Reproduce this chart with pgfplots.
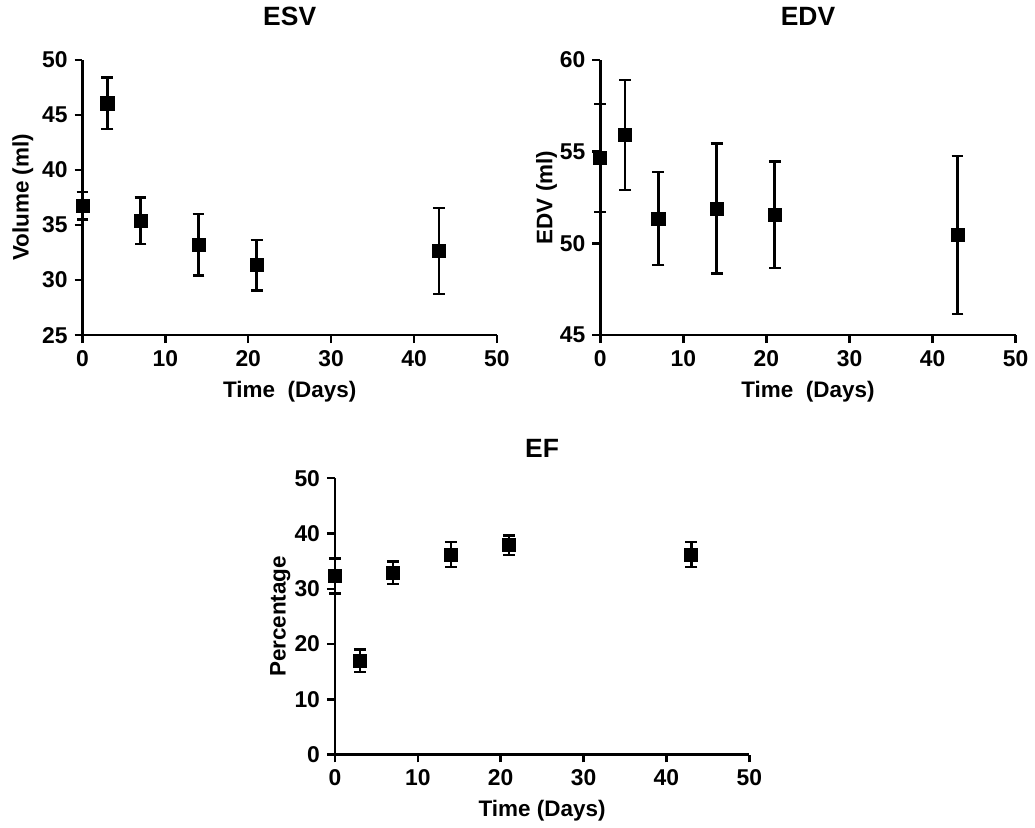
\documentclass[border=0pt]{standalone}
\usepackage{fontspec}
\setmainfont{Liberation Sans}
\usepackage{pgfplots}
\usepackage{pgfplotstable}
\pgfplotsset{compat=1.18}

% mean and error, time in days
\pgfplotstableread{
t  y     e
0  36.75 1.25
3  46.05 2.35
7  35.40 2.10
14 33.20 2.80
21 31.35 2.30
43 32.65 3.90
}\esvdata
\pgfplotstableread{
t  y     e
0  54.65 2.95
3  55.90 3.00
7  51.35 2.53
14 51.90 3.55
21 51.55 2.90
43 50.45 4.30
}\edvdata
\pgfplotstableread{
t  y     e
0  32.30 3.15
3  16.95 2.05
7  32.90 2.00
14 36.20 2.25
21 37.90 1.75
43 36.20 2.25
}\efdata

\pgfplotsset{
  panel/.style={
    scale only axis,
    width=208.5pt, height=138.5pt,
    axis lines=left,
    axis line style={-, line width=1.25pt, black},
    xmin=0, xmax=50, xtick={0,10,...,50},
    tick align=outside,
    major tick length=4pt,
    tick style={line width=1.25pt, black},
    tick label style={font=\fontsize{11.5}{13}\selectfont\bfseries},
    /pgf/number format/assume math mode=true,
    label style={font=\fontsize{11.3}{13}\selectfont\bfseries},
    title style={font=\fontsize{13.3}{15}\selectfont\bfseries,
                 at={(axis description cs:0.5,1)}, anchor=base, yshift=11.5pt},
    xlabel style={at={(axis description cs:0.5,-0.2274)}, anchor=base},
    clip=false,
  },
  pts/.style={
    black, only marks, mark=square*, mark size=3.3pt,
    error bars/.cd, y dir=both, y explicit,
    error bar style={line width=1.25pt, black},
    error mark options={rotate=90, mark size=3pt, line width=1.25pt, black},
  },
}

\begin{document}
\begin{tikzpicture}
\path (0,0) rectangle (517.5pt,412pt);

% ESV
\begin{axis}[panel, at={(41.5pt,247pt)},
  ymin=25, ymax=50, ytick={25,30,...,50},
  title={ESV}, xlabel={Time\ \ (Days)}, ylabel={Volume (ml)},
  ylabel style={at={(axis description cs:-0.144,0.5)}, anchor=center}]
\addplot[pts] table[x=t, y=y, y error=e] {\esvdata};
\end{axis}

% EDV
\begin{axis}[panel, at={(302pt,247pt)}, width=209pt,
  ymin=45, ymax=60, ytick={45,50,...,60},
  title={EDV}, xlabel={Time\ \ (Days)}, ylabel={EDV (ml)},
  ylabel style={at={(axis description cs:-0.129,0.5)}, anchor=center}]
\addplot[pts] table[x=t, y=y, y error=e] {\edvdata};
\end{axis}

% EF
\begin{axis}[panel, at={(168.5pt,36pt)}, height=139pt,
  ymin=0, ymax=50, ytick={0,10,...,50},
  title={EF}, xlabel={Time (Days)}, ylabel={Percentage},
  title style={yshift=-7pt},
  xlabel style={at={(axis description cs:0.5,-0.223)}},
  ylabel style={at={(axis description cs:-0.132,0.5)}, anchor=center}]
\addplot[pts] table[x=t, y=y, y error=e] {\efdata};
\end{axis}
\end{tikzpicture}
\end{document}
